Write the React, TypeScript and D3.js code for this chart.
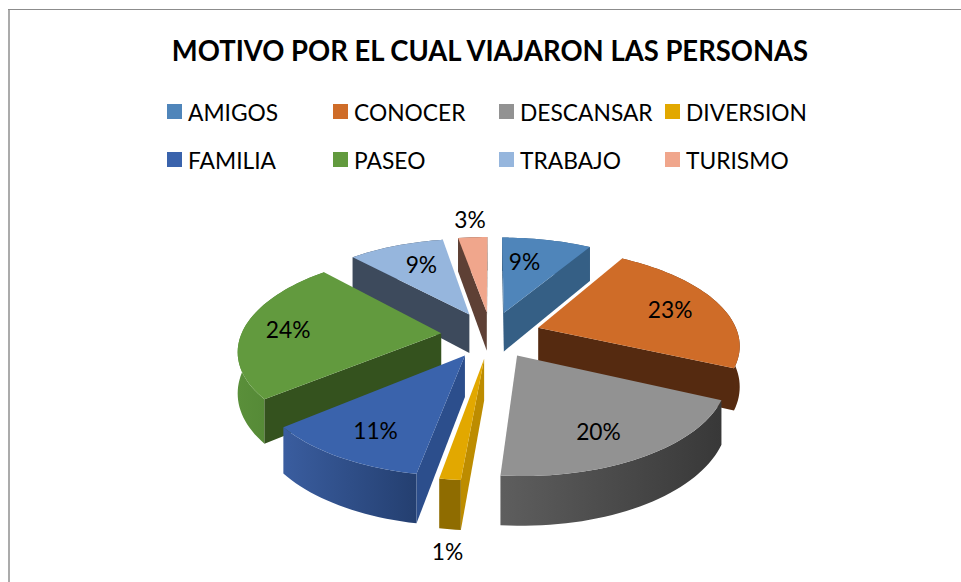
import React from "react";
import * as d3 from "d3";

const categories = ["AMIGOS", "CONOCER", "DESCANSAR", "DIVERSION", "FAMILIA", "PASEO", "TRABAJO", "TURISMO"];
const values = [8.6, 23.2, 19.6, 1.4, 11.2, 24, 9.2, 2.8];
const topColors = ["#4F85BA", "#CF6C28", "#929292", "#E2A800", "#3A63AC", "#629A3E", "#96B6DD", "#F0A68C"];
const cutColors = ["#355F85", "#552A10", "#3c3c3c", "#BD8C00", "#2C4E8C", "#34521E", "#3D4A5C", "#5E4035"];
const wallLeft = ["#355F85", "#6b3413", "#5e5e5e", "#8F6C00", "#3A5D9F", "#5A8F3A", "#3D4A5C", "#5E4035"];
const wallRight = ["#355F85", "#552A10", "#383838", "#8F6C00", "#243F70", "#4C7F30", "#3D4A5C", "#5E4035"];
const labelShiftX = [-10, 9, 0, 7, -8, -19, 4, 0];
const labelShiftY = [0, 0, 11, 39, 10, 0, -1, -4];
const title = "MOTIVO POR EL CUAL VIAJARON LAS PERSONAS";
const W = 961, H = 582;
const FONT = "Lato, Carlito, Calibri, sans-serif";

const cx = 491, cy = 334.6, R = 200, explode = 0.25, A = 93.7, k = 0.16, depth = 40;
const titleSqueeze = 0.93, squeeze = 0.95;

function project(u: number, v: number, z = 0): [number, number] {
  const w = 1 + k * v;
  return [cx + (R * u) / w, cy + (-A * v + z * depth) / w];
}

export default function App() {
  const arcs = d3.pie<number>().value((d) => d).sort(null)(values);
  const total = d3.sum(values);
  const line = d3.line();
  const slices = arcs.map((a, i) => {
    const mid = (a.startAngle + a.endAngle) / 2;
    const ox = explode * Math.sin(mid), oy = explode * Math.cos(mid);
    const n = Math.max(4, Math.ceil((a.endAngle - a.startAngle) * 30));
    const angles = d3.range(n + 1).map((j) => a.startAngle + ((a.endAngle - a.startAngle) * j) / n);
    const rim = (z: number) => angles.map((t) => project(ox + Math.sin(t), oy + Math.cos(t), z));
    const apex = project(ox, oy, 0), apexB = project(ox, oy, 1);
    const top = rim(0), bot = rim(1);
    const midRim = top[Math.floor(n / 2)];
    const faces: [number, number][][] = [];
    for (const [c, cB] of [[top[0], bot[0]], [top[n], bot[n]]]) {
      const dx = c[0] - apex[0], dy = c[1] - apex[1];
      const crossThird = dx * (midRim[1] - apex[1]) - dy * (midRim[0] - apex[0]);
      if (crossThird * dx < 0) faces.push([apex, c, cB, apexB]);
    }
    const wall: [number, number][] = [...top, ...[...bot].reverse()];
    const pct = d3.format(".0%")(values[i] / total);
    const fr = values[i] < 5 ? 1.22 : 0.68;
    const p = project(ox + fr * Math.sin(mid), oy + fr * Math.cos(mid), 0);
    const label: [number, number] = [p[0] + labelShiftX[i], p[1] + labelShiftY[i]];
    return { i, apex, top, faces, wall, pct, label };
  });
  const order = [...slices].sort((p, q) => p.apex[1] - q.apex[1]);
  const pts = (s: [number, number][]) => (line(s) ?? "") + "Z";
  const columns = d3.scaleBand<number>().domain([0, 1, 2, 3]).range([167, 831]);
  const rows = d3.scalePoint<number>().domain([0, 1]).range([112, 160]);

  return (
    <svg width={W} height={H} style={{ position: "fixed", left: 0, top: 0, background: "#fff" }} fontFamily={FONT}>
      <defs>
        {values.map((_, i) => (
          <linearGradient key={i} id={`w${i}`} x1="0" x2="1" y1="0" y2="0">
            <stop offset="0" stopColor={wallLeft[i]} />
            <stop offset="1" stopColor={wallRight[i]} />
          </linearGradient>
        ))}
      </defs>
      <line x1={9} x2={9} y1={9} y2={H} stroke="#ababab" strokeWidth={2} />
      <line x1={8} x2={W} y1={9.5} y2={9.5} stroke="#8c8c8c" strokeWidth={1} />
      <text transform={`translate(490,61) scale(${titleSqueeze},1)`} textAnchor="middle" fontSize={29.5} fontWeight={700} fill="#000">{title}</text>
      {categories.map((c, i) => {
        const x = columns(i % 4) as number;
        const y = rows(Math.floor(i / 4)) as number;
        return (
          <g key={c}>
            <rect x={x} y={y - 8} width={15} height={15} fill={topColors[i]} />
            <text transform={`translate(${x + 21},${y + 8.5}) scale(${squeeze},1)`} fontSize={24} fill="#000">{c}</text>
          </g>
        );
      })}
      {order.map((s) => (
        <g key={s.i}>
          <path d={pts(s.wall)} fill={`url(#w${s.i})`} />
          {s.faces.map((f, j) => <path key={j} d={pts(f)} fill={cutColors[s.i]} />)}
          <path d={pts([s.apex, ...s.top])} fill={topColors[s.i]} />
        </g>
      ))}
      {slices.map((s) => (
        <text key={s.i} transform={`translate(${s.label[0]},${s.label[1]}) scale(${squeeze},1)`} dy="0.35em" textAnchor="middle" fontSize={24} fill="#000">{s.pct}</text>
      ))}
    </svg>
  );
}
